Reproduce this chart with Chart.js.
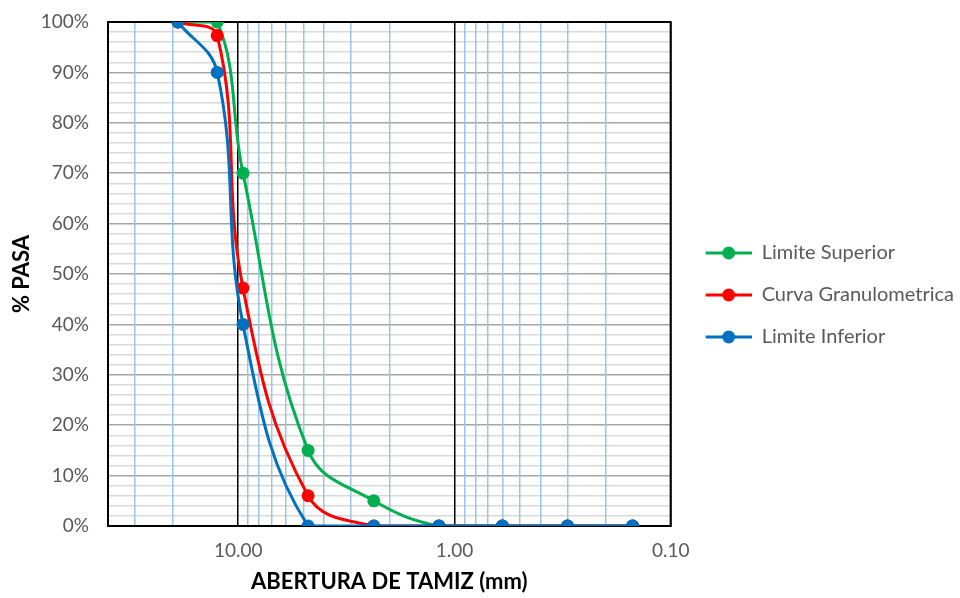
<!DOCTYPE html>
<html>
<head>
<meta charset="utf-8">
<script src="https://cdn.jsdelivr.net/npm/chart.js@4"></script>
<style>
  html, body { margin: 0; padding: 0; background: #fff; }
  #wrap { width: 960px; height: 598px; }
</style>
</head>
<body>
<div id="wrap"><canvas id="myChart" width="960" height="598"></canvas></div>
<script>
// sieve openings (mm) and % passing
const sieves = [19.0, 12.5, 9.5, 4.75, 2.36, 1.18, 0.60, 0.30, 0.15];
const upper = [100, 100, 70, 15, 5, 0, 0, 0, 0];
const curve = [100, 97.3, 47.2, 6, 0, 0, 0, 0, 0];
const lower = [100, 90, 40, 0, 0, 0, 0, 0, 0];

// x gridline positions (log minor ticks) and labelled decades
const xGrid = [0.1, 0.2, 0.3, 0.4, 0.5, 0.6, 0.7, 0.8, 0.9,
               1, 2, 3, 4, 5, 6, 7, 8, 9, 10, 20, 30, 40];
const xLabels = [10, 1, 0.1];

const GREEN = '#00b050', RED = '#ff0000', BLUE = '#0070c0';
const FONT = 'Lato, "Open Sans", sans-serif';

function pts(ys) {
    return sieves.map((x, i) => ({ x: x, y: ys[i] }));
}

// legend marker: line with a dot, blank space on the left
function legendIcon(color) {
    const c = document.createElement('canvas');
    c.width = 59; c.height = 14;
    const g = c.getContext('2d');
    g.strokeStyle = color; g.lineWidth = 3;
    g.beginPath(); g.moveTo(13, 7); g.lineTo(59, 7); g.stroke();
    g.fillStyle = color;
    g.beginPath(); g.arc(36, 7, 6.5, 0, Math.PI * 2); g.fill();
    return c;
}

function series(label, ys, color) {
    return {
        label: label,
        data: pts(ys),
        showLine: true,
        borderColor: color,
        backgroundColor: color,
        borderWidth: 3,
        pointRadius: 6.5,
        pointHoverRadius: 6.5,
        pointBorderWidth: 0,
        tension: 0.4,
        icon: legendIcon(color)
    };
}

const frame = {
    id: 'frame',
    afterLayout(chart) {
        // move the legend block up a little, like the original
        if (chart.legend) { chart.legend.top -= 15; chart.legend.bottom -= 15; }
    },
    beforeDatasetsDraw(chart) {
        const a = chart.chartArea, ctx = chart.ctx;
        ctx.save();
        ctx.strokeStyle = '#000';
        ctx.lineWidth = 2;
        ctx.strokeRect(a.left, a.top, a.right - a.left, a.bottom - a.top);
        ctx.restore();
    }
};

const data = {
    datasets: [
        series('Limite Inferior', lower, BLUE),
        series('Curva Granulometrica', curve, RED),
        series('Limite Superior', upper, GREEN)
    ]
};

const config = {
    type: 'scatter',
    data: data,
    plugins: [frame],
    options: {
        responsive: false,
        animation: false,
        layout: { padding: { top: 22, right: -4, bottom: 0, left: 0 } },
        plugins: {
            tooltip: { enabled: false },
            legend: {
                position: 'right',
                reverse: true,
                maxWidth: 340,
                labels: {
                    usePointStyle: true,
                    pointStyleWidth: 59,
                    padding: 22,
                    color: '#595959',
                    font: { family: FONT, size: 20 },
                    generateLabels(chart) {
                        const items = Chart.defaults.plugins.legend.labels.generateLabels(chart);
                        items.forEach(it => { it.pointStyle = chart.data.datasets[it.datasetIndex].icon; });
                        return items;
                    }
                }
            }
        },
        scales: {
            x: {
                type: 'logarithmic',
                reverse: true,
                min: 0.1,
                max: 40,
                afterBuildTicks(scale) {
                    scale.ticks = xGrid.map(v => ({ value: v }));
                },
                afterFit(scale) {
                    scale.height = 72;
                    scale.paddingLeft = 0;
                    scale.paddingRight = 0;
                },
                ticks: {
                    autoSkip: false,
                    maxRotation: 0,
                    padding: 13,
                    color: '#595959',
                    font: { family: FONT, size: 19 },
                    callback: (v) => xLabels.includes(v) ? v.toFixed(2) : ''
                },
                grid: {
                    drawTicks: false,
                    lineWidth: 1.5,
                    color: (c) => (c.tick && xLabels.includes(c.tick.value)) ? '#000000' : '#9dc3e6'
                },
                border: { color: '#000', width: 2 },
                title: {
                    display: true,
                    text: 'ABERTURA DE TAMIZ (mm)',
                    color: '#000',
                    font: { family: FONT, size: 22, weight: 'bold' },
                    padding: { top: 0, bottom: 3 }
                }
            },
            y: {
                min: 0,
                max: 100,
                afterFit(scale) {
                    scale.width = 108;
                    scale.paddingTop = 0;
                    scale.paddingBottom = 0;
                },
                ticks: {
                    stepSize: 2,
                    autoSkip: false,
                    padding: 19,
                    color: '#595959',
                    font: { family: FONT, size: 19 },
                    callback: (v) => v % 10 === 0 ? v + '%' : ''
                },
                grid: {
                    z: -2,
                    drawTicks: false,
                    lineWidth: 1.5,
                    color: (c) => (c.tick && c.tick.value % 10 === 0) ? '#a6a6a6' : '#d9d9d9'
                },
                border: { color: '#000', width: 2 },
                title: {
                    display: true,
                    text: '% PASA',
                    color: '#000',
                    font: { family: FONT, size: 22, weight: 'bold' },
                    padding: { top: 9, bottom: 0 }
                }
            }
        }
    }
};

const myChart = new Chart(document.getElementById('myChart'), config);
</script>
</body>
</html>
